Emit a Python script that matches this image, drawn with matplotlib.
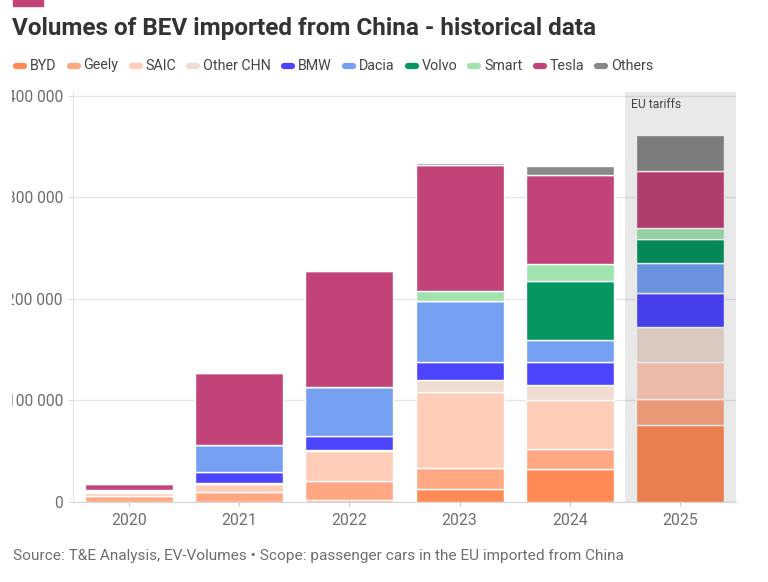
import matplotlib
matplotlib.use("Agg")
import matplotlib.pyplot as plt
from matplotlib.lines import Line2D
from matplotlib.transforms import Bbox
import numpy as np

plt.rcParams['font.family'] = ['Roboto', 'DejaVu Sans']

years = ["2020", "2021", "2022", "2023", "2024", "2025"]
brands = ["BYD", "Geely", "SAIC", "Other CHN", "BMW", "Dacia", "Volvo", "Smart", "Tesla", "Others"]
colors = ["#FF8A56", "#FFA883", "#FFCDB8", "#EEDDD0", "#4D44FF", "#76A1F2",
          "#05975F", "#A1E3AF", "#C2437A", "#888888"]

# volumes per brand, one value per year (cars)
byd = [0, 0, 1500, 13000, 32500, 76300]
geely = [5500, 9500, 18900, 20500, 19700, 25300]
saic = [3300, 8300, 29400, 74900, 48300, 36000]
other_chn = [1200, 1200, 1500, 12100, 14800, 35100]
bmw = [1200, 10300, 13300, 17100, 23100, 32900]
dacia = [1000, 26900, 48500, 60100, 21200, 29800]
volvo = [0, 0, 0, 0, 58100, 24100]
smart = [0, 0, 0, 9900, 17000, 10300]
tesla = [5200, 70800, 114000, 124400, 87400, 56100]
others = [0, 0, 0, 1700, 8600, 35500]

series = [byd, geely, saic, other_chn, bmw, dacia, volvo, smart, tesla, others]
yticks = [0, 100000, 200000, 300000, 400000]

W, H = 768, 582
fig = plt.figure(figsize=(W / 100, H / 100), dpi=100)
ax = fig.add_axes([73 / W, (H - 502) / H, (736 - 73) / W, (502 - 92) / H])

x = np.arange(len(years))
bottom = np.zeros(len(years))
for vals, c in zip(series, colors):
    ax.bar(x, vals, 0.8, bottom=bottom, color=c, edgecolor="white", linewidth=1, zorder=2)
    bottom += np.array(vals)

# shaded EU tariffs band (darkens what is under it)
ax.axvspan(4.5, 5.6, color="black", alpha=0.085, lw=0, zorder=3)
ax.text(4.56, 392000, "EU tariffs", fontsize=8.7, color="#444444", va="center", ha="left", zorder=4)

ax.set_xlim(-0.51, 5.51)
ax.set_ylim(0, 403900)
ax.set_yticks(yticks)
ax.set_yticklabels([f"{v:,}".replace(",", " ") for v in yticks])
ax.set_xticks(x)
ax.set_xticklabels(years)
ax.yaxis.grid(True, color="#E6E6E6", lw=1, zorder=0)
ax.set_axisbelow(True)
for s in ["top", "right"]:
    ax.spines[s].set_visible(False)
ax.spines["left"].set_color("#E3E3E3")
ax.spines["bottom"].set_color("#D5D5D5")
ax.tick_params(axis="y", length=3.6, pad=3.6, color="#DDDDDD", labelsize=11.2, labelcolor="#6E6E6E")
ax.tick_params(axis="x", length=3, pad=5, color="#CCCCCC", labelsize=11.3, labelcolor="#6E6E6E")

# the chart area is cut a little on the left, as in the original
clip = Bbox.from_extents(12, 0, W, H)
for lbl in ax.get_yticklabels():
    lbl.set_clip_box(clip)
    lbl.set_clip_on(True)

# header
fig.patches.append(plt.Rectangle((13 / W, (H - 6) / H), 30 / W, 6 / H, color="#C2437A",
                                 transform=fig.transFigure, figure=fig))
fig.text(12 / W, (H - 35) / H, "Volumes of BEV imported from China - historical data",
         fontsize=17.5, fontweight="bold", color="#333333", va="baseline")

# legend
renderer = fig.canvas.get_renderer()
xpos = 13
ly = (H - 65.5) / H
for name, c in zip(brands, colors):
    fig.lines.append(Line2D([(xpos + 3) / W, (xpos + 11) / W], [ly, ly], lw=4.5, color=c,
                            solid_capstyle="round", transform=fig.transFigure, figure=fig))
    t = fig.text((xpos + 17) / W, ly, name, fontsize=10.3, color="#444444", va="center")
    bb = t.get_window_extent(renderer)
    xpos = bb.x1 + 10

fig.text(13 / W, (H - 560) / H,
         "Source: T&E Analysis, EV-Volumes \u2022 Scope: passenger cars in the EU imported from China",
         fontsize=11.1, color="#6E6E6E", va="baseline")

fig.savefig("out.png", dpi=100)
